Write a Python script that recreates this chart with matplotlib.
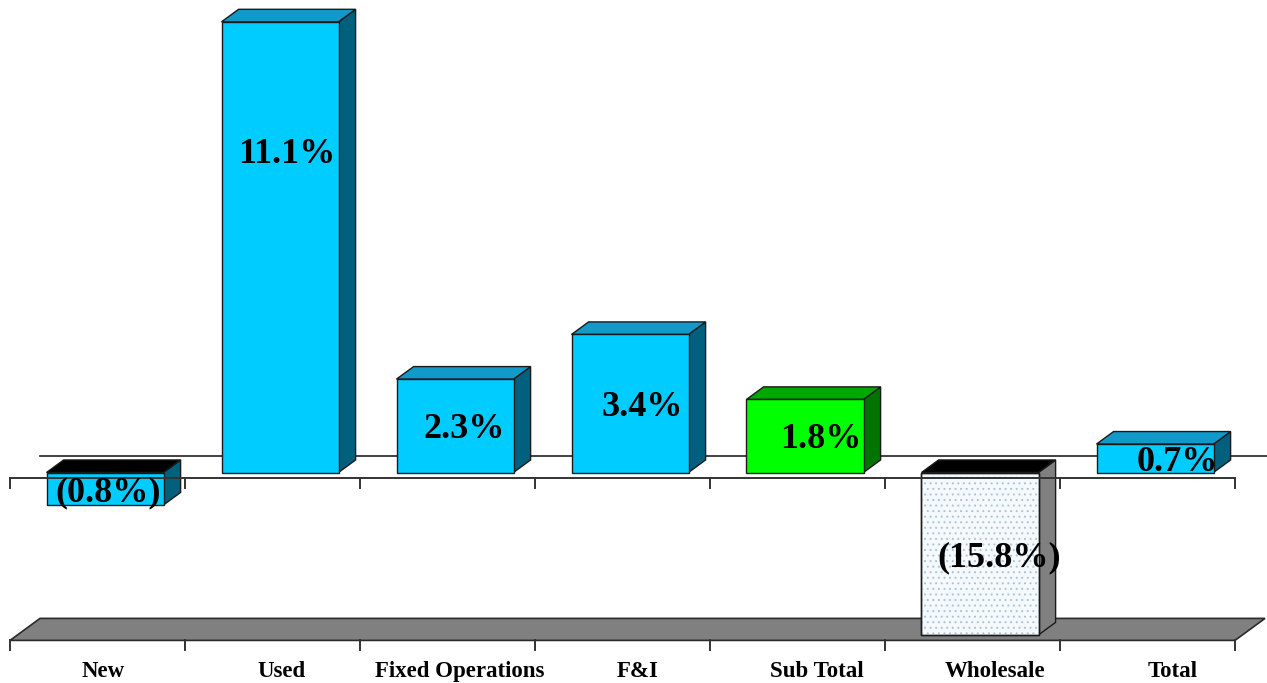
import matplotlib
matplotlib.use("Agg")
import matplotlib.pyplot as plt
from matplotlib.patches import Polygon

plt.rcParams["hatch.color"] = "#A9C3DA"
plt.rcParams["hatch.linewidth"] = 0.7

# ---- data ----
categories = ["New", "Used", "Fixed Operations", "F&I", "Sub Total", "Wholesale", "Total"]
values = [-0.8, 11.1, 2.3, 3.4, 1.8, -15.8, 0.7]
value_labels = ["(0.8%)", "11.1%", "2.3%", "3.4%", "1.8%", "(15.8%)", "0.7%"]
bar_styles = ["cyan", "cyan", "cyan", "cyan", "green", "dotted", "cyan"]

# ---- layout / style ----
W, H, DPI = 1267, 683, 100
PX_X = 175.0          # pixels per category
PX_Y = 40.6           # pixels per percent
X0_PX = 97.5          # pixel x of category 0 centre
ZERO_PX = 478.0       # pixel y of value 0 at front plane
YMIN = -4.0           # value axis floor
DX = 30.0 / PX_X      # full depth offset in x units
DY = 22.0 / PX_Y      # full depth offset in y units
F1, F2 = 0.25, 0.82   # bar depth span
BAR_W = 117.0 / PX_X

palette = {
    "cyan": dict(front="#00CCFF", top="#1199C9", side="#00607E", hatch=None),
    "green": dict(front="#00FF00", top="#00A800", side="#007400", hatch=None),
    "dotted": dict(front="#F6F9FC", top="#000000", side="#808080", hatch="..."),
}
label_frac = {"Used": 0.715}

fig = plt.figure(figsize=(W / DPI, H / DPI), dpi=DPI)
ax = fig.add_axes([0, 0, 1, 1])
ax.set_xlim(-X0_PX / PX_X, (W - X0_PX) / PX_X)
ax.set_ylim(-(H - ZERO_PX) / PX_Y, ZERO_PX / PX_Y)
ax.axis("off")

def P(x, v, d):
    return (x + d * DX, v + d * DY)

n = len(categories)
left, right = -0.5, n - 0.5

# floor
floor = Polygon([P(left, YMIN, 0), P(right, YMIN, 0), P(right, YMIN, 1), P(left, YMIN, 1)],
                closed=True, facecolor="#808080", edgecolor="#2a2a2a", lw=1.2, zorder=1)
ax.add_patch(floor)

# back zero line
bx0, by0 = P(left, 0, 1)
ax.plot([bx0, (W - X0_PX) / PX_X], [by0, by0], color="#333333", lw=1.3, zorder=2)

tick_len = 10.0 / PX_Y
# bars
for i, (cat, v, st) in enumerate(zip(categories, values, bar_styles)):
    c = palette[st]
    lo = max(min(0.0, v), YMIN)
    hi = max(0.0, v)
    xl, xr = i - BAR_W / 2, i + BAR_W / 2
    top_col = c["top"] if v >= 0 else "#000000"
    front_pts = [P(xl, lo, F1), P(xr, lo, F1), P(xr, hi, F1), P(xl, hi, F1)]
    front = Polygon(front_pts, closed=True, facecolor=c["front"],
                    edgecolor="#1a1a1a", lw=1.0, zorder=4)
    top = Polygon([P(xl, hi, F1), P(xr, hi, F1), P(xr, hi, F2), P(xl, hi, F2)],
                  closed=True, facecolor=top_col, edgecolor="#1a1a1a", lw=1.0, zorder=4)
    side = Polygon([P(xr, lo, F1), P(xr, lo, F2), P(xr, hi, F2), P(xr, hi, F1)],
                   closed=True, facecolor=c["side"], edgecolor="#1a1a1a", lw=1.0, zorder=4)
    for p in (side, top, front):
        ax.add_patch(p)
    if c["hatch"]:
        ax.add_patch(Polygon(front_pts, closed=True, facecolor="none", hatch=c["hatch"],
                             lw=0, zorder=4.1))
        ax.add_patch(Polygon(front_pts, closed=True, facecolor="none",
                             edgecolor="#1a1a1a", lw=1.0, zorder=4.2))

    frac = label_frac.get(cat, 0.5)
    ly = hi * frac if v >= 0 else (lo + hi) / 2
    lx, ly = P(i + 0.018 * (i + 1), ly, F1)
    ax.text(lx, ly, value_labels[i], ha="center", va="center_baseline",
            fontsize=26, fontweight="bold", family="Liberation Serif", color="black", zorder=6)

# front axis line + ticks
ax.plot([left, right], [0, 0], color="#333333", lw=1.4, zorder=5)
for k in range(n + 1):
    xt = left + k
    ax.plot([xt, xt], [0, -tick_len], color="#333333", lw=1.4, zorder=5)
    ax.plot([xt, xt], [YMIN, YMIN - tick_len], color="#333333", lw=1.4, zorder=5)

# category labels
ylab = -(669 - ZERO_PX) / PX_Y
for i, cat in enumerate(categories):
    ax.text(i + 0.032 + 0.019 * i, ylab, cat, ha="center", va="center_baseline",
            fontsize=16.5, fontweight="bold", family="Liberation Serif", color="black")

fig.savefig("out.png", dpi=DPI, facecolor="white")
